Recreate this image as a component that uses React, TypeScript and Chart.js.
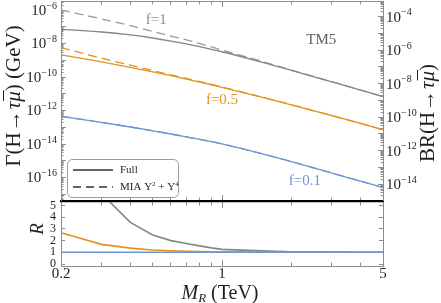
import React, { useEffect, useRef } from "react";
import { Chart, registerables } from "chart.js";

Chart.register(...registerables);

// ---------------- data ----------------
const masses = [0.2, 0.3, 0.4, 0.5, 0.6, 0.7, 0.8, 0.9, 1, 1.5, 2, 3, 4, 5];

const widthF1Full = [7.08e-8, 4.9e-8, 3.27e-8, 2.14e-8, 1.41e-8, 9.44e-9, 6.46e-9, 4.52e-9, 3.24e-9, 7.52e-10, 2.51e-10, 5.13e-11, 1.66e-11, 6.76e-12];
const widthF1MIA = [1.0e-6, 2.95e-7, 1.17e-7, 5.3e-8, 2.82e-8, 1.66e-8, 1.0e-8, 6.24e-9, 4.07e-9, 8.51e-10, 2.63e-10, 5.25e-11, 1.68e-11, 6.84e-12];
const widthF05Full = [2.14e-9, 7.94e-10, 3.76e-10, 2.04e-10, 1.2e-10, 7.59e-11, 5.01e-11, 3.47e-11, 2.45e-11, 6.03e-12, 2.19e-12, 5.01e-13, 1.7e-13, 7.08e-14];
const widthF05MIA = [5.75e-9, 1.33e-9, 5.13e-10, 2.45e-10, 1.36e-10, 8.26e-11, 5.31e-11, 3.63e-11, 2.55e-11, 6.17e-12, 2.21e-12, 5.01e-13, 1.7e-13, 7.08e-14];
const widthF01Full = [4.57e-13, 1.95e-13, 1.04e-13, 6.17e-14, 3.98e-14, 2.69e-14, 1.91e-14, 1.38e-14, 1.02e-14, 2.58e-15, 8.91e-16, 1.86e-16, 6.03e-17, 2.51e-17];
const widthF01MIA = [4.57e-13, 1.95e-13, 1.04e-13, 6.17e-14, 3.98e-14, 2.69e-14, 1.91e-14, 1.38e-14, 1.02e-14, 2.58e-15, 8.91e-16, 1.86e-16, 6.03e-17, 2.51e-17];

const ratioF1 = [14, 6.0, 3.56, 2.48, 2.0, 1.75, 1.55, 1.38, 1.25, 1.12, 1.05, 1.02, 1.01, 1.01];
const ratioF05 = [2.68, 1.68, 1.36, 1.2, 1.13, 1.09, 1.06, 1.05, 1.04, 1.02, 1.01, 1.0, 1.0, 1.0];
const ratioF01 = [1.0, 1.0, 1.0, 1.0, 1.0, 1.0, 1.0, 1.0, 1.0, 1.0, 1.0, 1.0, 1.0, 1.0];

const higgsWidth = 4.07e-3; // GeV, BR = Gamma / Gamma_H
const gammaMin = 3.98e-18;
const gammaMax = 3.47e-6;
const massMin = 0.2;
const massMax = 5;
const ratioMin = -0.17;
const ratioMax = 5.3;

const xMajorTicks = [0.2, 1, 5];
const xMinorTicks = [0.3, 0.4, 0.5, 0.6, 0.7, 0.8, 0.9, 2, 3, 4];
const gammaDecades = [-17, -16, -15, -14, -13, -12, -11, -10, -9, -8, -7, -6];
const gammaLabelExps = [-6, -8, -10, -12, -14, -16];
const brDecades = [-15, -14, -13, -12, -11, -10, -9, -8, -7, -6, -5, -4];
const brLabelExps = [-4, -6, -8, -10, -12, -14];
const ratioTicks = [0, 1, 2, 3, 4, 5];

const curveLabels = [
  { text: "f=1", mass: 0.518, gamma: 2.5e-7, color: "#8c8c8c" },
  { text: "f=0.5", mass: 1.0, gamma: 4.3e-12, color: "#e3921f" },
  { text: "f=0.1", mass: 2.29, gamma: 6.2e-17, color: "#6c96d2" },
  { text: "TM5", mass: 2.7, gamma: 1.62e-8, color: "#5b6360" },
];

// ---------------- styles ----------------
const FRAME = "#8c8c8c";
const INK = "#1e1e1e";
const GRAY = "#7f8a80";
const GRAY_DASH = "#9a9a9a";
const ORANGE = "#e3921f";
const BLUE = "#6c96d2";
const SERIF = "'Liberation Serif', 'DejaVu Serif', serif";

const minorOf = (exps: number[]) => {
  const out: number[] = [];
  for (const e of [exps[0] - 1, ...exps]) for (let k = 2; k <= 9; k++) out.push(k * Math.pow(10, e));
  return out;
};

type Seg = { text: string; font: string; dy?: number; color?: string; overline?: boolean; gap?: number };

function drawRich(ctx: CanvasRenderingContext2D, segs: Seg[], x: number, y: number, align: "left" | "center" | "right", rotate = false, color = INK) {
  ctx.save();
  ctx.translate(x, y);
  if (rotate) ctx.rotate(-Math.PI / 2);
  ctx.textBaseline = "middle";
  ctx.textAlign = "left";
  const widths = segs.map((s) => {
    ctx.font = s.font;
    return ctx.measureText(s.text).width + 2 * (s.gap || 0);
  });
  const total = widths.reduce((a, b) => a + b, 0);
  let cx = align === "left" ? 0 : align === "right" ? -total : -total / 2;
  segs.forEach((s, i) => {
    ctx.font = s.font;
    ctx.fillStyle = s.color || color;
    const tx = cx + (s.gap || 0);
    ctx.fillText(s.text, tx, s.dy || 0);
    if (s.overline) {
      const w = ctx.measureText(s.text).width;
      const size = parseFloat(s.font.match(/(\d+(\.\d+)?)px/)![1]);
      ctx.strokeStyle = s.color || color;
      ctx.lineWidth = 1;
      ctx.beginPath();
      ctx.moveTo(tx + 1, (s.dy || 0) - size * 0.5);
      ctx.lineTo(tx + w + 1, (s.dy || 0) - size * 0.5);
      ctx.stroke();
    }
    cx += widths[i];
  });
  ctx.restore();
}

type AxisSpec = {
  type: "logarithmic" | "linear";
  position: "left" | "right" | "top" | "bottom";
  min: number;
  max: number;
  ticks: number[];
  len: number;
  weight: number;
  size: number;
  border?: { color: string; width: number };
  labels?: { font: any; color: string; padding: number; fmt: (v: number) => string };
};

function axis(s: AxisSpec) {
  const horizontal = s.position === "top" || s.position === "bottom";
  const eps = (s.max - s.min) * 1e-9;
  return {
    type: s.type,
    position: s.position,
    min: s.min,
    max: s.max,
    weight: s.weight,
    bounds: "data",
    grid: { drawOnChartArea: false, drawTicks: true, tickLength: -s.len, tickColor: FRAME, tickWidth: 1 },
    border: s.border ? { display: true, color: s.border.color, width: s.border.width } : { display: false },
    ticks: s.labels
      ? {
          display: true,
          autoSkip: false,
          maxRotation: 0,
          minRotation: 0,
          font: s.labels.font,
          color: s.labels.color,
          padding: s.labels.padding,
          callback: (v: any) => s.labels!.fmt(Number(v)),
        }
      : { display: false, autoSkip: false },
    afterBuildTicks: (sc: any) => {
      sc.ticks = s.ticks.filter((v) => v >= s.min - eps && v <= s.max + eps).map((v) => ({ value: v }));
    },
    afterFit: (sc: any) => {
      if (horizontal) sc.height = s.size;
      else sc.width = s.size;
      sc.paddingLeft = 0;
      sc.paddingRight = 0;
      sc.paddingTop = 0;
      sc.paddingBottom = 0;
    },
  };
}

const pts = (ys: number[]) => masses.map((m, i) => ({ x: m, y: ys[i] }));

const supDigits = (e: number) => "\u2212" + String(-e);

const topDecor = {
  id: "topDecor",
  afterDraw(chart: any) {
    const ctx: CanvasRenderingContext2D = chart.ctx;
    const { left, right, bottom } = chart.chartArea;
    const yL = chart.scales.yL;
    const yR = chart.scales.yR;
    const xs = chart.scales.xB;
    const base = `15px ${SERIF}`;
    const sup = `10px ${SERIF}`;
    gammaLabelExps.forEach((e) => {
      const y = yL.getPixelForValue(Math.pow(10, e));
      drawRich(ctx, [{ text: "10", font: base }, { text: supDigits(e), font: sup, dy: -5 }], left - 4, y + 1, "right");
    });
    brLabelExps.forEach((e) => {
      const y = yR.getPixelForValue(Math.pow(10, e));
      drawRich(ctx, [{ text: "10", font: base }, { text: supDigits(e), font: sup, dy: -5 }], right + 3, y + 1, "left");
    });
    // axis titles
    const tf = `21px ${SERIF}`;
    const ti = `italic 21px ${SERIF}`;
    drawRich(
      ctx,
      [
        { text: "\u0393(H", font: tf },
        { text: "\u2192", font: tf, gap: 1 },
        { text: "\u03C4", font: ti },
        { text: "\u03BC", font: ti, overline: true },
        { text: ") (GeV)", font: tf },
      ],
      14,
      96,
      "center",
      true
    );
    drawRich(
      ctx,
      [
        { text: "BR(H", font: tf },
        { text: "\u2192", font: tf, gap: 1 },
        { text: "\u03C4", font: ti },
        { text: "\u03BC", font: ti, overline: true },
        { text: ")", font: tf },
      ],
      428,
      113,
      "center",
      true
    );
    // curve labels
    curveLabels.forEach((c) => {
      ctx.save();
      ctx.font = `15px ${SERIF}`;
      ctx.fillStyle = c.color;
      ctx.textAlign = "center";
      ctx.textBaseline = "middle";
      ctx.fillText(c.text, xs.getPixelForValue(c.mass), yL.getPixelForValue(c.gamma));
      ctx.restore();
    });
    // legend
    const bx = left + 6;
    const by = bottom - 42;
    const bw = 111;
    const bh = 38;
    ctx.save();
    ctx.beginPath();
    ctx.roundRect(bx + 0.5, by + 0.5, bw, bh, 5);
    ctx.fillStyle = "#ffffff";
    ctx.fill();
    ctx.strokeStyle = "#9a9a9a";
    ctx.lineWidth = 1;
    ctx.stroke();
    ctx.strokeStyle = "#333333";
    ctx.lineWidth = 1.3;
    ctx.beginPath();
    ctx.moveTo(bx + 6, by + 11);
    ctx.lineTo(bx + 46, by + 11);
    ctx.stroke();
    ctx.setLineDash([8, 5]);
    ctx.beginPath();
    ctx.moveTo(bx + 6, by + 28);
    ctx.lineTo(bx + 46, by + 28);
    ctx.stroke();
    ctx.restore();
    const lf = `11px ${SERIF}`;
    const ls = `7px ${SERIF}`;
    drawRich(ctx, [{ text: "Full", font: lf }], bx + 53, by + 11, "left");
    drawRich(
      ctx,
      [
        { text: "MIA Y", font: lf },
        { text: "2", font: ls, dy: -3 },
        { text: " + Y", font: lf },
        { text: "4", font: ls, dy: -3 },
      ],
      bx + 53,
      by + 28,
      "left"
    );
  },
};

const bottomDecor = {
  id: "bottomDecor",
  afterDraw(chart: any) {
    const ctx: CanvasRenderingContext2D = chart.ctx;
    drawRich(ctx, [{ text: "R", font: `italic 19px ${SERIF}` }], 38, 28, "center", true);
    drawRich(
      ctx,
      [
        { text: "M", font: `italic 20px ${SERIF}` },
        { text: "R", font: `italic 13px ${SERIF}`, dy: 5 },
        { text: " (TeV)", font: `20px ${SERIF}` },
      ],
      220,
      93,
      "center"
    );
  },
};

function topConfig(): any {
  const brMin = gammaMin / higgsWidth;
  const brMax = gammaMax / higgsWidth;
  const line = (data: number[], color: string, dashed: boolean) => ({
    data: pts(data),
    borderColor: color,
    borderWidth: 1.3,
    borderDash: dashed ? [9, 5] : [],
    pointRadius: 0,
    cubicInterpolationMode: "monotone",
    xAxisID: "xB",
    yAxisID: "yL",
  });
  return {
    type: "line",
    data: {
      datasets: [
        line(widthF1Full, GRAY, false),
        line(widthF1MIA, GRAY_DASH, true),
        line(widthF05Full, ORANGE, false),
        line(widthF05MIA, ORANGE, true),
        line(widthF01Full, BLUE, false),
        line(widthF01MIA, BLUE, true),
      ],
    },
    options: {
      responsive: false,
      animation: false,
      devicePixelRatio: 1,
      events: [],
      layout: { padding: { top: 1, bottom: 1, left: 0, right: 0 } },
      plugins: { legend: { display: false }, tooltip: { enabled: false } },
      scales: {
        xB: axis({ type: "logarithmic", position: "bottom", min: massMin, max: massMax, ticks: xMajorTicks, len: 6, weight: 1, size: 0, border: { color: "#000", width: 1.2 } }),
        xBm: axis({ type: "logarithmic", position: "bottom", min: massMin, max: massMax, ticks: xMinorTicks, len: 3.5, weight: 0, size: 0 }),
        xT: axis({ type: "logarithmic", position: "top", min: massMin, max: massMax, ticks: xMajorTicks, len: 6, weight: 1, size: 0, border: { color: FRAME, width: 1 } }),
        xTm: axis({ type: "logarithmic", position: "top", min: massMin, max: massMax, ticks: xMinorTicks, len: 3.5, weight: 0, size: 0 }),
        yL: axis({ type: "logarithmic", position: "left", min: gammaMin, max: gammaMax, ticks: gammaDecades.map((e) => Math.pow(10, e)), len: 5, weight: 1, size: 61, border: { color: FRAME, width: 1 } }),
        yLm: axis({ type: "logarithmic", position: "left", min: gammaMin, max: gammaMax, ticks: minorOf(gammaDecades), len: 2.5, weight: 0, size: 0 }),
        yR: axis({ type: "logarithmic", position: "right", min: brMin, max: brMax, ticks: brDecades.map((e) => Math.pow(10, e)), len: 5, weight: 1, size: 58, border: { color: FRAME, width: 1 } }),
        yRm: axis({ type: "logarithmic", position: "right", min: brMin, max: brMax, ticks: minorOf(brDecades), len: 2.5, weight: 0, size: 0 }),
      },
    },
    plugins: [topDecor],
  };
}

function bottomConfig(): any {
  const line = (data: number[], color: string) => ({
    data: pts(data),
    borderColor: color,
    borderWidth: 1.6,
    pointRadius: 0,
    tension: 0,
    xAxisID: "xB",
    yAxisID: "rL",
  });
  return {
    type: "line",
    data: {
      datasets: [line(ratioF01, BLUE), line(ratioF05, ORANGE), line(ratioF1, GRAY)],
    },
    options: {
      responsive: false,
      animation: false,
      devicePixelRatio: 1,
      events: [],
      layout: { padding: { top: 1, bottom: 0, left: 0, right: 0 } },
      plugins: { legend: { display: false }, tooltip: { enabled: false } },
      scales: {
        xB: axis({
          type: "logarithmic",
          position: "bottom",
          min: massMin,
          max: massMax,
          ticks: xMajorTicks,
          len: 6,
          weight: 1,
          size: 37,
          border: { color: FRAME, width: 1 },
          labels: { font: { family: SERIF, size: 15 }, color: INK, padding: 5, fmt: (v) => String(v) },
        }),
        xBm: axis({ type: "logarithmic", position: "bottom", min: massMin, max: massMax, ticks: xMinorTicks, len: 3.5, weight: 0, size: 0 }),
        xT: axis({ type: "logarithmic", position: "top", min: massMin, max: massMax, ticks: xMajorTicks, len: 6, weight: 1, size: 0, border: { color: "#000", width: 1.2 } }),
        xTm: axis({ type: "logarithmic", position: "top", min: massMin, max: massMax, ticks: xMinorTicks, len: 3.5, weight: 0, size: 0 }),
        rL: axis({
          type: "linear",
          position: "left",
          min: ratioMin,
          max: ratioMax,
          ticks: ratioTicks,
          len: 4,
          weight: 1,
          size: 61,
          border: { color: FRAME, width: 1 },
          labels: { font: { family: SERIF, size: 12 }, color: INK, padding: 9, fmt: (v) => String(v) },
        }),
        rR: axis({ type: "linear", position: "right", min: ratioMin, max: ratioMax, ticks: ratioTicks, len: 4, weight: 1, size: 58, border: { color: FRAME, width: 1 } }),
      },
    },
    plugins: [bottomDecor],
  };
}

export default function App() {
  const topRef = useRef<HTMLCanvasElement>(null);
  const botRef = useRef<HTMLCanvasElement>(null);
  useEffect(() => {
    const top = new Chart(topRef.current!, topConfig());
    const bot = new Chart(botRef.current!, bottomConfig());
    return () => {
      top.destroy();
      bot.destroy();
    };
  }, []);
  return (
    <div style={{ position: "fixed", left: 0, top: 0, width: 441, height: 303, background: "#ffffff" }}>
      <canvas ref={topRef} width={441} height={202} style={{ position: "absolute", left: 0, top: 0 }} />
      <canvas ref={botRef} width={441} height={102} style={{ position: "absolute", left: 0, top: 201 }} />
    </div>
  );
}
